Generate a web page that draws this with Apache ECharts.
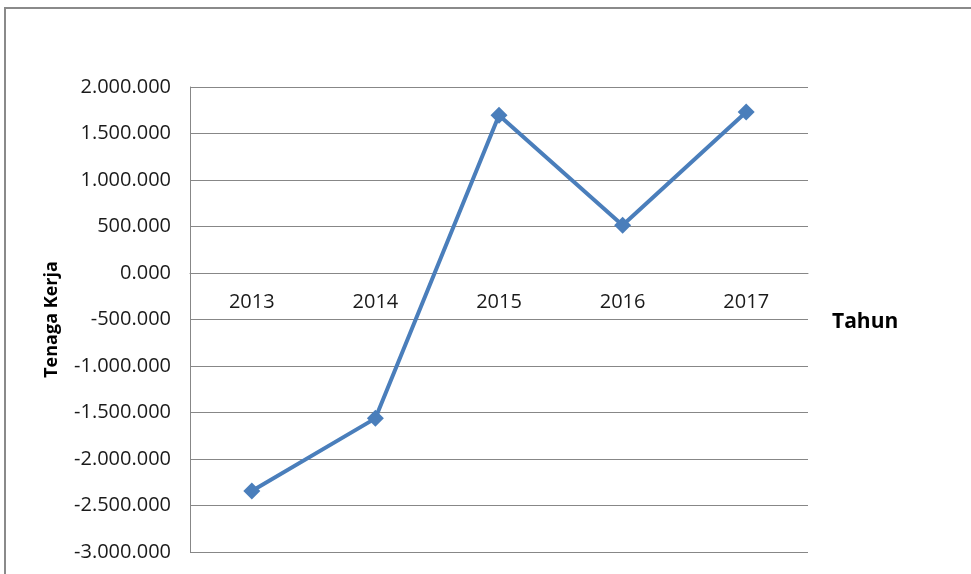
<!DOCTYPE html>
<html>
<head>
<meta charset="utf-8">
<script src="https://cdn.jsdelivr.net/npm/echarts@6/dist/echarts.min.js"></script>
<style>
  html, body { margin: 0; padding: 0; background: #fff; }
  #chart { width: 971px; height: 574px; }
</style>
</head>
<body>
<div id="chart"></div>
<script>
// data
const years = ['2013', '2014', '2015', '2016', '2017']
const tenagaKerja = [-2345000, -1563000, 1696000, 514000, 1731000]
const yMin = -3000000
const yMax = 2000000
const yStep = 500000

// Excel-style thousands with dots, zero shown as "0.000"
function fmt(v) {
  if (v === 0) return '0.000'
  const s = Math.abs(v).toString().replace(/\B(?=(\d{3})+(?!\d))/g, '.')
  return (v < 0 ? '-' : '') + s
}

const chart = echarts.init(document.getElementById('chart'))
const font = '"Open Sans", sans-serif'
const gridTop = 87
const gridBottom = 22
const gridH = 574 - gridTop - gridBottom
// move the category axis up to the zero line
const zeroOffset = -gridH * (0 - yMin) / (yMax - yMin)

chart.setOption({
  animation: false,
  backgroundColor: '#fff',
  graphic: [{
    type: 'rect',
    shape: { x: 5, y: 8, width: 1100, height: 700 },
    style: { fill: 'none', stroke: '#8a8a8a', lineWidth: 2 },
    silent: true
  }],
  grid: { left: 190, right: 163, top: gridTop, bottom: gridBottom, outerBoundsMode: 'none', containLabel: false },
  xAxis: {
    type: 'category',
    data: years,
    boundaryGap: true,
    offset: zeroOffset,
    axisLine: { onZero: false, lineStyle: { color: '#878787', width: 1 } },
    axisTick: { show: false },
    axisLabel: { color: '#1a1a1a', fontFamily: font, fontSize: 20, margin: 19 },
    name: 'Tahun',
    nameLocation: 'end',
    nameGap: 24,
    nameTextStyle: {
      color: '#000', fontFamily: font, fontSize: 21, fontWeight: 'bold',
      verticalAlign: 'top',
      padding: [39, 0, 0, 0]
    }
  },
  yAxis: {
    type: 'value',
    min: yMin,
    max: yMax,
    interval: yStep,
    axisLine: { show: true, lineStyle: { color: '#878787', width: 1 } },
    axisTick: { show: false },
    splitLine: { lineStyle: { color: '#878787', width: 1 } },
    axisLabel: { color: '#1a1a1a', fontFamily: font, fontSize: 20, margin: 19, formatter: fmt },
    name: 'Tenaga Kerja',
    nameLocation: 'middle',
    nameGap: 129,
    nameTextStyle: { color: '#000', fontFamily: font, fontSize: 18, fontWeight: 'bold' }
  },
  series: [{
    type: 'line',
    data: tenagaKerja,
    symbol: 'diamond',
    symbolSize: 17,
    lineStyle: { color: '#4a7ebb', width: 4 },
    itemStyle: { color: '#4a7ebb' }
  }]
})
</script>
</body>
</html>
